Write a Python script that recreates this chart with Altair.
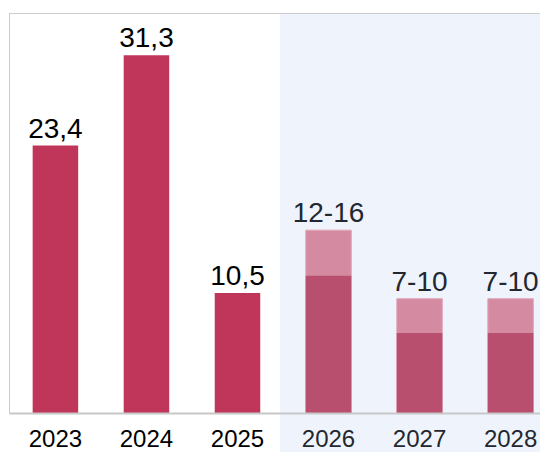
import altair as alt
import pandas as pd

years = ["2023", "2024", "2025", "2026", "2027", "2028"]
kinds = ["actual", "actual", "actual", "forecast", "forecast", "forecast"]
low_values = [23.4, 31.3, 10.5, 12, 7, 7]
high_values = [23.4, 31.3, 10.5, 16, 10, 10]
labels = ["23,4", "31,3", "10,5", "12-16", "7-10", "7-10"]

df = pd.DataFrame({"year": years, "kind": kinds, "low": low_values,
                   "high": high_values, "label": labels})

FONT = "Liberation Sans"

x = alt.X("year:N", sort=years, title=None,
          scale=alt.Scale(paddingInner=0.5, paddingOuter=0.26, range=[0, 548]),
          axis=alt.Axis(labelAngle=0, ticks=False, labelPadding=14, labelFontSize=24,
                        labelFont=FONT, domainColor="#c8c8c8", domainWidth=2, zindex=2,
                        labelColor={"condition": {"test": "datum.value >= 2026", "value": "#23272f"},
                                    "value": "#000000"}))
y_scale = alt.Scale(domain=[0, 35])

one = pd.DataFrame({"a": [0]})
shade = alt.Chart(one).mark_rect(color="#eff4fc").encode(
    x=alt.value(271), x2=alt.value(600), y=alt.value(0), y2=alt.value(460))
top_border = alt.Chart(one).mark_rule(color="#cccccc", strokeWidth=1).encode(
    x=alt.value(0), x2=alt.value(600), y=alt.value(0.5))
left_border = alt.Chart(one).mark_rule(color="#cccccc", strokeWidth=1).encode(
    x=alt.value(0.5), y=alt.value(0), y2=alt.value(400))

upper = alt.Chart(df).transform_filter("datum.kind == 'forecast'").mark_bar(
    color="#d48ba2", stroke="#e0a6b7", strokeWidth=1).encode(
    x=x, y=alt.Y("high:Q", scale=y_scale, axis=None))

lower = alt.Chart(df).mark_bar().encode(
    x=x, y=alt.Y("low:Q", scale=y_scale, axis=None),
    color=alt.Color("kind:N", scale=alt.Scale(domain=["actual", "forecast"],
                                              range=["#c0365a", "#b94f6e"]), legend=None))

text = alt.Chart(df).mark_text(baseline="alphabetic", dy=-8, fontSize=28, font=FONT).encode(
    x=x, y=alt.Y("high:Q", scale=y_scale, axis=None), text="label:N",
    color=alt.Color("kind:N", scale=alt.Scale(domain=["actual", "forecast"],
                                              range=["#000000", "#23272f"]), legend=None))

chart = alt.layer(shade, top_border, left_border, upper, lower, text).resolve_scale(
    color="independent").properties(
    width=531, height=400,
    autosize=alt.AutoSizeParams(type="none"),
    padding={"left": 1, "top": 5, "right": 0, "bottom": 39},
).configure_view(stroke=None).configure(background="white")

chart.save("out.html", embed_options={"renderer": "svg", "actions": False})
